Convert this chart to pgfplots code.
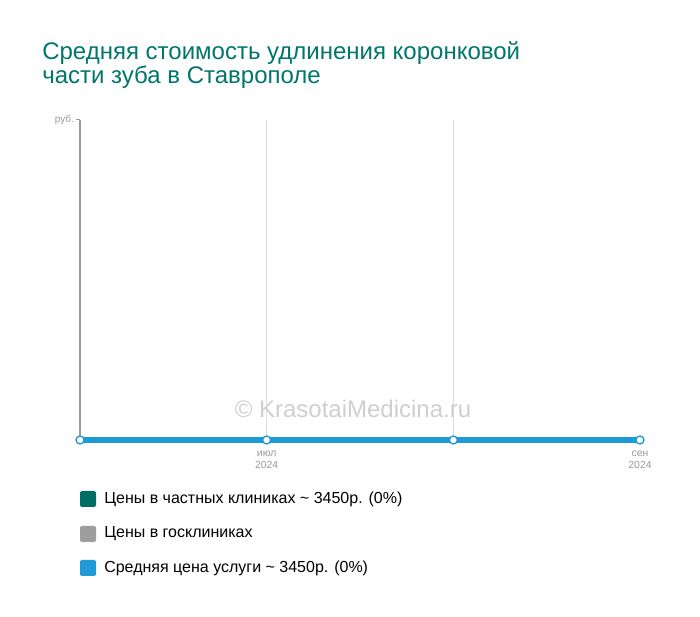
\documentclass[border=0pt]{standalone}
\usepackage{fontspec}
\setmainfont{Liberation Sans}
\usepackage{pgfplots}
\pgfplotsset{compat=1.18}
\definecolor{titlec}{HTML}{00766C}
\definecolor{privc}{HTML}{006E66}
\definecolor{govc}{HTML}{9E9E9E}
\definecolor{avgc}{HTML}{1E9BD7}
\definecolor{gridc}{HTML}{DDDDDD}
\definecolor{axc}{HTML}{999999}
\definecolor{tickc}{HTML}{999999}
\definecolor{wmc}{HTML}{CFCFCF}
\begin{document}
\begin{tikzpicture}[x=0.75pt,y=0.75pt]
\path (0,0) rectangle (700,617);
\begin{axis}[
  at={(60pt,132.75pt)}, anchor=south west,
  scale only axis, width=420pt, height=240pt,
  xmin=0, xmax=3, ymin=3450, ymax=4000,
  clip=false,
  axis x line=bottom, axis y line=left,
  axis line style={-},
  x axis line style={draw=none},
  y axis line style={draw=axc, line width=0.75pt},
  xtick={1,2}, xticklabels={\shortstack{июл\\2024},{}},
  extra x ticks={3}, extra x tick labels={\shortstack{сен\\2024}},
  extra x tick style={grid=none},
  xmajorgrids, grid style={draw=gridc, line width=0.6pt},
  xtick style={draw=none},
  xticklabel style={font=\fontsize{7.8}{8.5}\selectfont, text=tickc, yshift=-2pt},
  ytick={4000}, yticklabels={руб.},
  ytick style={draw=axc, line width=0.75pt},
  tick align=outside, major tick length=3pt,
  yticklabel style={font=\fontsize{7.5}{8}\selectfont, text=tickc, xshift=2pt},
]
\addplot[privc, line width=4pt, mark=none] coordinates {(0,3450) (1,3450) (2,3450) (3,3450)};
\addplot[avgc, line width=4pt, mark=*, mark size=3pt,
  mark options={fill=white, draw=avgc, line width=1pt}]
  coordinates {(0,3450) (1,3450) (2,3450) (3,3450)};
\end{axis}
\node[anchor=base west, text=titlec, font=\fontsize{18}{20}\selectfont, inner sep=0] at (42,617-60) {Средняя стоимость удлинения коронковой};
\node[anchor=base west, text=titlec, font=\fontsize{18}{20}\selectfont, inner sep=0] at (42,617-84) {части зуба в Ставрополе};
\node[text=wmc, font=\fontsize{18}{20}\selectfont] at (353,617-409) {© KrasotaiMedicina.ru};
\fill[privc, rounded corners=1.5pt] (80,617-491) rectangle (96,617-507);
\fill[govc, rounded corners=1.5pt] (80,617-526) rectangle (96,617-542);
\fill[avgc, rounded corners=1.5pt] (80,617-560) rectangle (96,617-576);
\node[anchor=west, font=\fontsize{12}{14}\selectfont, inner sep=0] at (104,617-499) {Цены в частных клиниках \char`~{} 3450р. (0\%)};
\node[anchor=west, font=\fontsize{12}{14}\selectfont, inner sep=0] at (104,617-534) {Цены в госклиниках};
\node[anchor=west, font=\fontsize{12}{14}\selectfont, inner sep=0] at (104,617-568) {Средняя цена услуги \char`~{} 3450р. (0\%)};
\end{tikzpicture}
\end{document}
